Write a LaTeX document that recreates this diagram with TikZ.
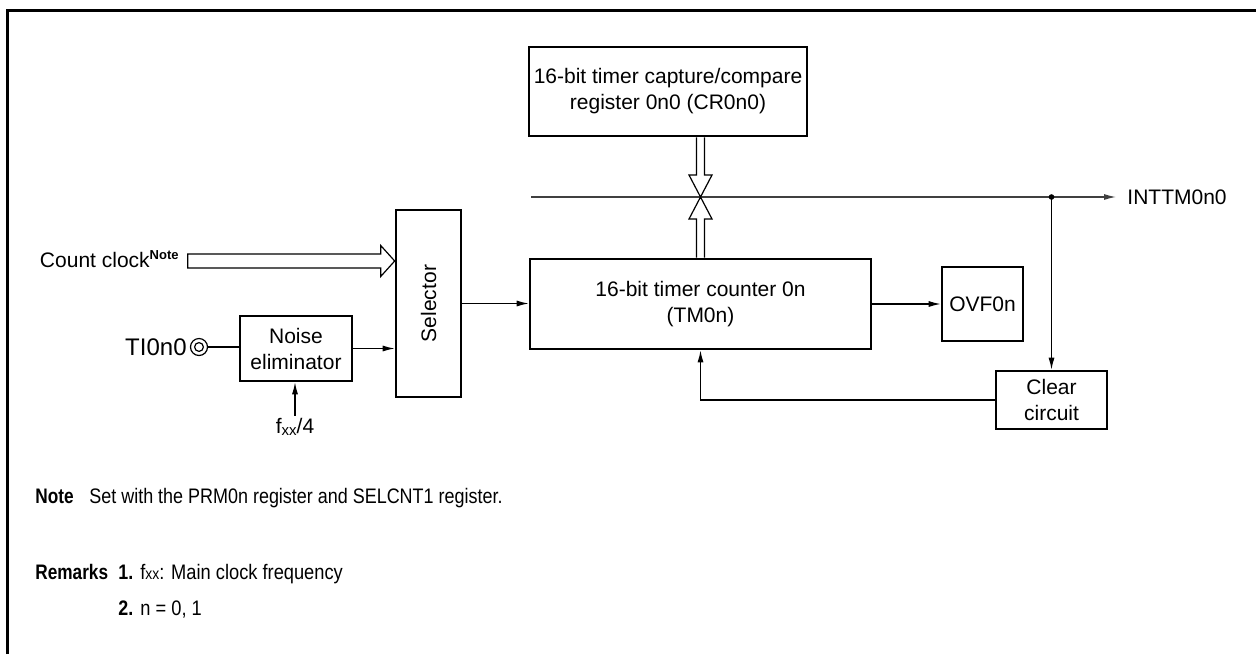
\documentclass[tikz,border=0pt]{standalone}
\usepackage{fontspec}
\setmainfont{Liberation Sans}
\usetikzlibrary{arrows.meta,calc}
\begin{document}
\begin{tikzpicture}[x=0.5pt,y=-0.5pt,
  font=\fontsize{10.5}{13}\selectfont,
  box/.style={draw, line width=1.3pt, align=center, inner sep=0pt},
  wire/.style={line width=0.6pt},
  arr/.style={wire,-{Latex[length=6pt,width=3pt]}},
  txt/.style={inner sep=0pt},
  notetxt/.style={inner sep=0pt, anchor=base west}]
\useasboundingbox (0,0) rectangle (1256,654);
% frame
\draw[line width=1.4pt] (7.5,654) -- (7.5,10.5) -- (1256,10.5);

% blocks
\node[box, minimum width=139pt, minimum height=44.5pt] (cr) at (668,91.5) {16-bit timer capture/compare\\register 0n0 (CR0n0)};
\node[box, minimum width=170.5pt, minimum height=45pt] (tm) at (700.5,304) {16-bit timer counter 0n\\(TM0n)};
\node[box, minimum width=32.5pt, minimum height=93.5pt] (sel) at (428.5,303.5) {};
\node[txt, rotate=90] (sellbl) at (sel.center) {Selector};
\node[box, minimum width=56pt, minimum height=32.5pt] (ne) at (296,348.5) {Noise\\eliminator};
\node[box, minimum width=40.5pt, minimum height=37pt] (ovf) at (982.5,304) {OVF0n};
\node[box, minimum width=55.5pt, minimum height=29pt] (clr) at (1051.5,400) {Clear\\circuit};

% count clock bus arrow
\node[txt, anchor=base east] (cc) at (180,267.5) {Count clock\textsuperscript{\bfseries\fontsize{6.5}{7}\selectfont Note}};
\coordinate (ccy) at (0,261);
\coordinate (cct) at (sel.west |- ccy);
\draw[wire] ($(cct)+(-207,-7)$) -- ($(cct)+(-14,-7)$) -- ($(cct)+(-14,-15.5)$) -- (cct)
  -- ($(cct)+(-14,15.5)$) -- ($(cct)+(-14,7)$) -- ($(cct)+(-207,7)$) -- cycle;

% TI0n0 input
\node[circle, draw, line width=0.6pt, minimum size=8.5pt, inner sep=0pt] (tin) at (199,347) {};
\draw[wire] (tin.center) circle (2.2pt);
\node[txt, anchor=east, font=\fontsize{12}{14}\selectfont] (tilbl) at (187,347) {TI0n0};
\draw[wire] (tin.east) -- (ne.west |- tin.east);
\draw[arr] (ne.east) -- (sel.west |- ne.east);
\node[inner sep=1pt] (fx) at (295,427) {f\raisebox{-0.2ex}{\fontsize{7.5}{8}\selectfont xx}/4};
\draw[arr] (fx.north) -- (ne.south -| fx.north);

% main path
\draw[arr] (sel.east) -- (tm.west |- sel.east);
\draw[arr] (tm.east) -- (ovf.west);
\draw[arr] (clr.west) -| (tm.south);

% compare bus / interrupt line
\coordinate (busL) at (531,197);
\node[txt, anchor=west] (int) at (1127,197) {INTTM0n0};
\draw[arr, black!75] (busL) -- ($(int.west)+(-11,0)$);
\coordinate (junc) at (clr.north |- busL);
\fill (junc) circle (1.4pt);
\draw[arr] (junc) -- (clr.north);

% double (bus) arrows
\coordinate (bus) at (tm.north |- busL);
\draw[wire] ($(cr.south -| bus)+(-4,0)$) -- ($(bus)+(-4,-22)$) -- ($(bus)+(-11.5,-22)$) -- (bus)
  -- ($(bus)+(11.5,-22)$) -- ($(bus)+(4,-22)$) -- ($(cr.south -| bus)+(4,0)$);
\draw[wire] ($(tm.north)+(-4,0)$) -- ($(bus)+(-4,22)$) -- ($(bus)+(-11.5,22)$) -- (bus)
  -- ($(bus)+(11.5,22)$) -- ($(bus)+(4,22)$) -- ($(tm.north)+(4,0)$);

% notes
\node[notetxt] (note) at (35,503.5) {\scalebox{0.82}[1]{\bfseries Note}};
\node[notetxt] (notet) at (89,503.5) {\scalebox{0.855}[1]{Set with the PRM0n register and SELCNT1 register.}};
\node[notetxt] (rem) at (35,579) {\scalebox{0.82}[1]{\bfseries Remarks}};
\node[notetxt] (r1n) at (118,579) {\scalebox{0.85}[1]{\bfseries 1.}};
\node[notetxt] (r1) at (140,579) {\scalebox{0.87}[1]{f{\fontsize{8}{9}\selectfont xx}: Main clock frequency}};
\node[notetxt] (r2n) at (118,615.5) {\scalebox{0.85}[1]{\bfseries 2.}};
\node[notetxt] (r2) at (140,615.5) {\scalebox{0.87}[1]{n = 0, 1}};
\end{tikzpicture}
\end{document}
